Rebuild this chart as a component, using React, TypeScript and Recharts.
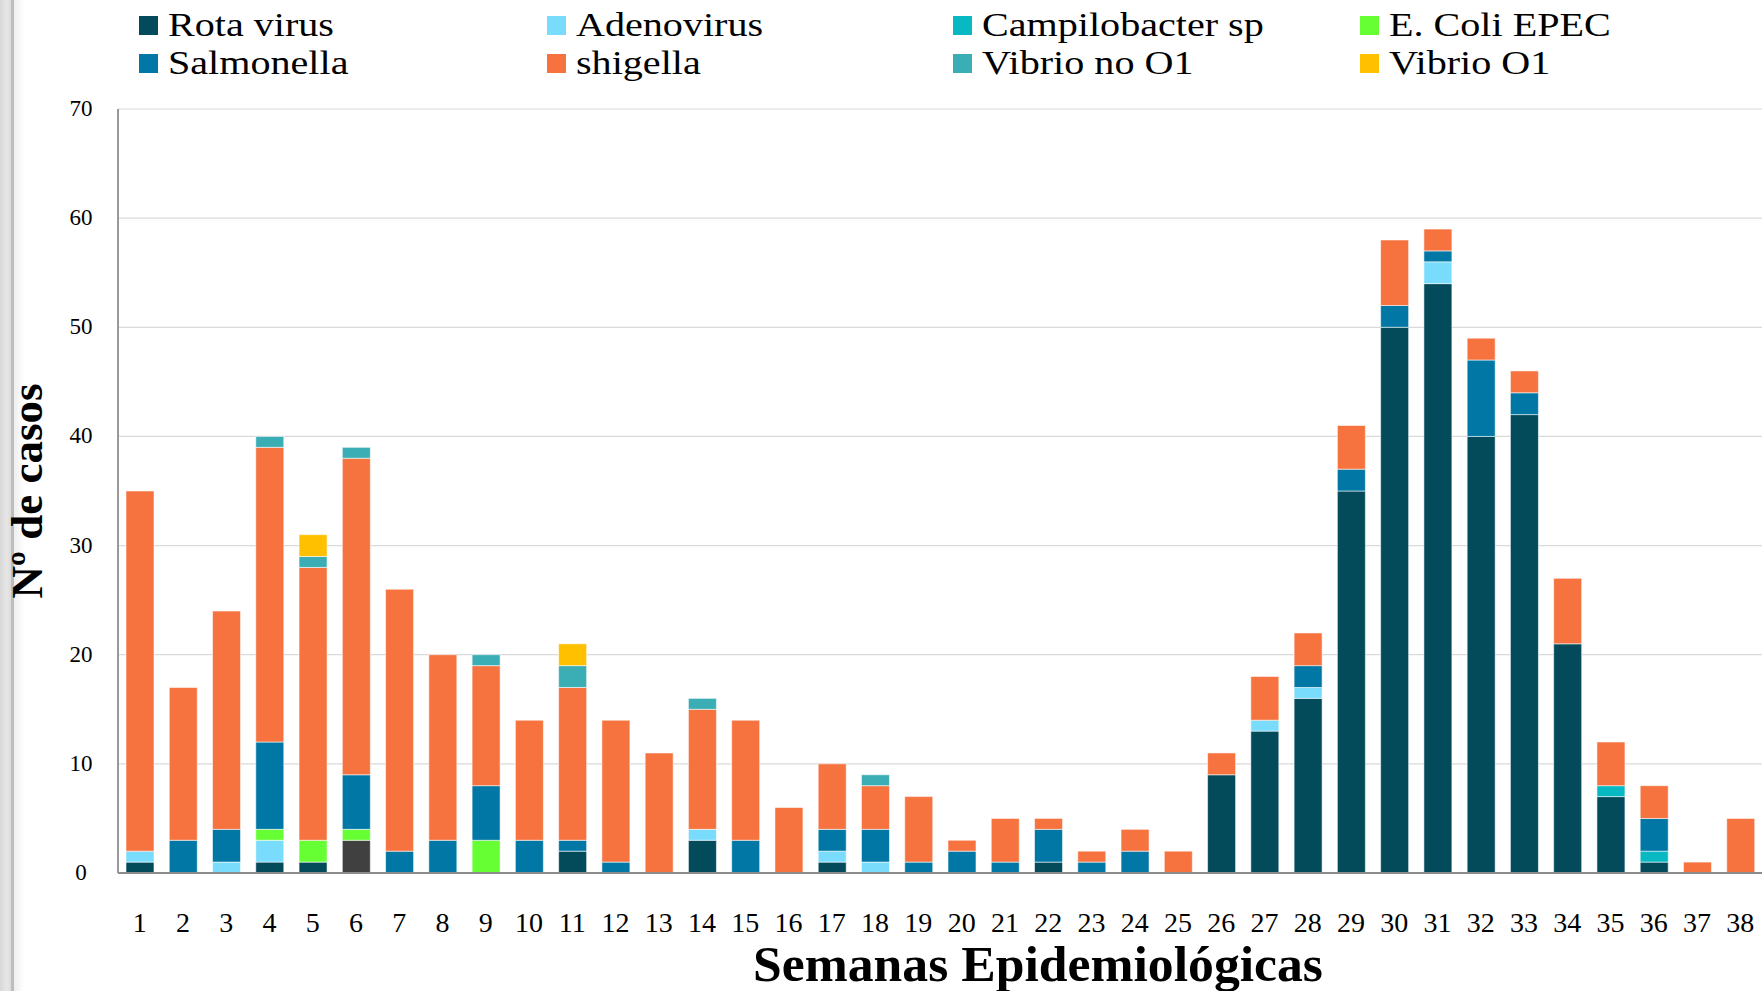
import React from "react";
import { BarChart, Bar, XAxis, YAxis, CartesianGrid, Legend } from "recharts";

const weeks = Array.from({ length: 38 }, (_, i) => String(i + 1));
const rotaVirus = [1,0,0,1,1,0,0,0,0,0,2,0,0,3,0,0,1,0,0,0,0,1,0,0,0,9,13,16,35,50,54,40,42,21,7,1,0,0];
const otros = [0,0,0,0,0,3,0,0,0,0,0,0,0,0,0,0,0,0,0,0,0,0,0,0,0,0,0,0,0,0,0,0,0,0,0,0,0,0];
const adenovirus = [1,0,1,2,0,0,0,0,0,0,0,0,0,1,0,0,1,1,0,0,0,0,0,0,0,0,1,1,0,0,2,0,0,0,0,0,0,0];
const campilobacter = [0,0,0,0,0,0,0,0,0,0,0,0,0,0,0,0,0,0,0,0,0,0,0,0,0,0,0,0,0,0,0,0,0,0,1,1,0,0];
const ecoliEpec = [0,0,0,1,2,1,0,0,3,0,0,0,0,0,0,0,0,0,0,0,0,0,0,0,0,0,0,0,0,0,0,0,0,0,0,0,0,0];
const salmonella = [0,3,3,8,0,5,2,3,5,3,1,1,0,0,3,0,2,3,1,2,1,3,1,2,0,0,0,2,2,2,1,7,2,0,0,3,0,0];
const shigella = [33,14,20,27,25,29,24,17,11,11,14,13,11,11,11,6,6,4,6,1,4,1,1,2,2,2,4,3,4,6,2,2,2,6,4,3,1,5];
const vibrioNoO1 = [0,0,0,1,1,1,0,0,1,0,2,0,0,1,0,0,0,1,0,0,0,0,0,0,0,0,0,0,0,0,0,0,0,0,0,0,0,0];
const vibrioO1 = [0,0,0,0,2,0,0,0,0,0,2,0,0,0,0,0,0,0,0,0,0,0,0,0,0,0,0,0,0,0,0,0,0,0,0,0,0,0];
const yTicks = [0, 10, 20, 30, 40, 50, 60, 70];

const series = [
  { key: "rota", name: "Rota virus", values: rotaVirus, color: "#034A5B" },
  { key: "otros", name: "Otros", values: otros, color: "#404040" },
  { key: "adeno", name: "Adenovirus", values: adenovirus, color: "#7ADCFD" },
  { key: "campi", name: "Campilobacter sp", values: campilobacter, color: "#08B8C3" },
  { key: "ecoli", name: "E. Coli EPEC", values: ecoliEpec, color: "#66FF33" },
  { key: "salm", name: "Salmonella", values: salmonella, color: "#0077A4" },
  { key: "shig", name: "shigella", values: shigella, color: "#F6723E" },
  { key: "vno", name: "Vibrio no O1", values: vibrioNoO1, color: "#3AAEB4" },
  { key: "vo1", name: "Vibrio O1", values: vibrioO1, color: "#FFC000" },
];

// legend order: row 1 then row 2, 4 columns
const legendOrder = ["rota", "adeno", "campi", "ecoli", "salm", "shig", "vno", "vo1"];

const data = weeks.map((w, i) => {
  const row: Record<string, any> = { week: w };
  series.forEach((s) => (row[s.key] = s.values[i]));
  return row;
});

const FONT = "'Liberation Serif', 'Times New Roman', serif";

const renderLegend = () => {
  const colX = [139, 547, 953, 1360];
  const rowTop = [16, 54];
  return (
    <svg width={1762} height={90} style={{ display: "block" }}>
      {legendOrder.map((k, idx) => {
        const s = series.find((x) => x.key === k)!;
        const c = idx % 4;
        const r = Math.floor(idx / 4);
        return (
          <g key={k}>
            <rect x={colX[c]} y={rowTop[r]} width={19} height={19} fill={s.color} />
            <text
              transform={`translate(${colX[c] + 29}, ${rowTop[r] + 20}) scale(1.18, 1)`}
              fontFamily={FONT}
              fontSize={34}
              fill="#000"
            >
              {s.name}
            </text>
          </g>
        );
      })}
    </svg>
  );
};

const XTick = (props: any) => {
  const { x, y, payload } = props;
  return (
    <text x={x} y={y + 59} textAnchor="middle" fontFamily={FONT} fontSize={28} fill="#000">
      {payload.value}
    </text>
  );
};

const YTick = (props: any) => {
  const { x, y, payload } = props;
  return (
    <text x={x - 37} y={y + 7} textAnchor="middle" fontFamily={FONT} fontSize={23} fill="#000">
      {payload.value}
    </text>
  );
};

const XLabel = (props: any) => {
  const vb = props.viewBox || {};
  const cx = vb.x + vb.width / 2 + 98;
  return (
    <text
      x={cx}
      y={981}
      textAnchor="middle"
      fontFamily={FONT}
      fontWeight="bold"
      fontSize={50}
      textLength={570}
      lengthAdjust="spacingAndGlyphs"
      fill="#000"
    >
      Semanas Epidemiológicas
    </text>
  );
};

const YLabel = (props: any) => {
  const vb = props.viewBox || {};
  const cy = vb.y + vb.height / 2;
  return (
    <text
      x={42}
      y={cy}
      transform={`rotate(-90, 42, ${cy})`}
      textAnchor="middle"
      fontFamily={FONT}
      fontWeight="bold"
      fontSize={45}
      fill="#000"
    >
      Nº de casos
    </text>
  );
};

export default function App() {
  return (
    <div style={{ position: "absolute", left: 0, top: 0, width: 1762, height: 991, background: "#fff", overflow: "hidden" }}>
      <div
        style={{
          position: "absolute",
          left: 0,
          top: 0,
          width: 11,
          height: 991,
          background: "linear-gradient(90deg, #d8d8d8, #e6e6e6 60%, #dcdcdc)",
          borderRight: "3px solid #bdbdbd",
        }}
      />
      <div style={{ position: "absolute", left: 14, top: 0, width: 10, height: 991, background: "linear-gradient(90deg, #eeeeee, #ffffff)" }} />
      <div style={{ position: "absolute", left: 0, top: 0 }}>
        <BarChart
          width={1762}
          height={991}
          data={data}
          margin={{ top: 109, right: 0, bottom: 0, left: 0 }}
          barSize={28}
        >
          <CartesianGrid vertical={false} stroke="#dadada" strokeWidth={1.2} />
          <XAxis
            dataKey="week"
            height={118}
            tickLine={false}
            tickSize={0}
            tickMargin={0}
            axisLine={{ stroke: "#8c8c8c", strokeWidth: 2 }}
            tick={<XTick />}
            interval={0}
            label={<XLabel />}
          />
          <YAxis
            width={118}
            domain={[0, 70]}
            ticks={yTicks}
            tickLine={false}
            tickSize={0}
            tickMargin={0}
            axisLine={{ stroke: "#999999", strokeWidth: 2 }}
            tick={<YTick />}
            label={<YLabel />}
          />
          <Legend
            content={renderLegend}
            wrapperStyle={{ position: "absolute", top: 0, left: 0, width: 1762, height: 0, overflow: "visible" }}
          />
          {series.map((s) => (
            <Bar
              key={s.key}
              dataKey={s.key}
              name={s.name}
              stackId="a"
              fill={s.color}
              stroke="rgba(255,255,255,0.55)"
              strokeWidth={1}
              isAnimationActive={false}
            />
          ))}
        </BarChart>
      </div>
    </div>
  );
}
